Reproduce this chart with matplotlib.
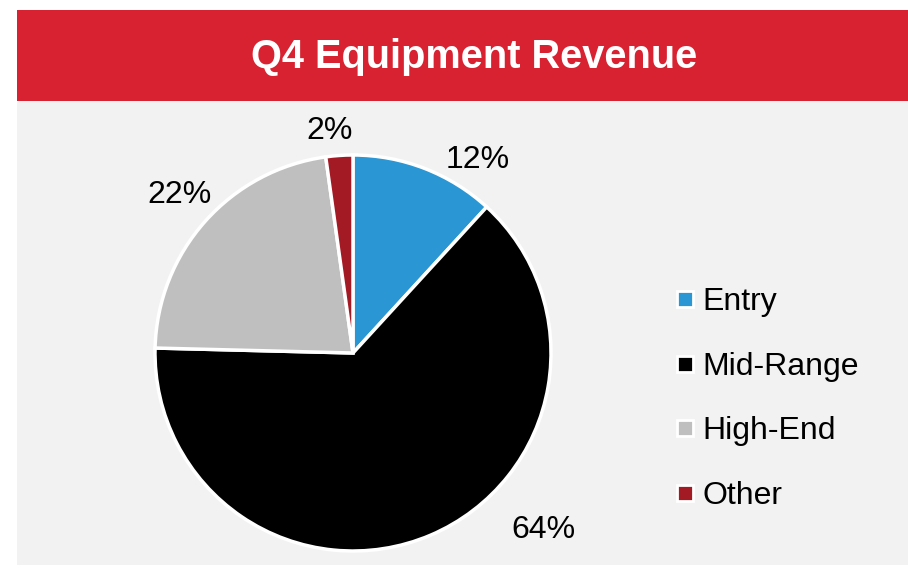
import matplotlib.pyplot as plt
from matplotlib.patches import Rectangle
from matplotlib.lines import Line2D

plt.rcParams['font.family'] = ['Liberation Sans', 'DejaVu Sans']

title = "Q4 Equipment Revenue"
categories = ["Entry", "Mid-Range", "High-End", "Other"]
shares = [11.8, 63.6, 22.4, 2.2]
colors = ["#2A96D4", "#000000", "#BFBFBF", "#A31A25"]
# label offsets in pie-radius units (Excel "best fit" placement)
label_pos = [(0.63, 0.975), (0.96, -0.894), (-0.874, 0.80), (-0.116, 1.12)]

W, H = 908, 570
fig = plt.figure(figsize=(W / 100, H / 100), dpi=100)
fig.patch.set_facecolor("white")
ax = fig.add_axes([0, 0, 1, 1])

# background panel + title banner
ax.add_patch(Rectangle((17, H - 565), W - 17, 465, facecolor="#F2F2F2", edgecolor="none", zorder=0))
ax.add_patch(Rectangle((17, H - 101), W - 17, 91, facecolor="#D92231", edgecolor="none", zorder=1))
ax.text(474, H - 57, title, color="white", fontsize=28.6, fontweight="bold",
        ha="center", va="center", zorder=2)

cx, cy, r = 353, H - 353, 198
wedges, _ = ax.pie(shares, colors=colors, startangle=90, counterclock=False,
                   center=(cx, cy), radius=r,
                   wedgeprops=dict(edgecolor="white", linewidth=2.5))
for s, (dx, dy) in zip(shares, label_pos):
    ax.text(cx + dx * r, cy + dy * r, f"{s:.0f}%", fontsize=23, ha="center", va="center")

ax.set_xlim(0, W)
ax.set_ylim(0, H)
ax.set_aspect("auto")
ax.axis("off")

handles = [Line2D([], [], marker="s", linestyle="none", markersize=11,
                  markerfacecolor=c, markeredgecolor="white", markeredgewidth=2)
           for c in colors]
ax.legend(handles, categories, loc="center left", bbox_to_anchor=(656 / W, 1 - 399 / H),
          frameon=False, fontsize=23, labelspacing=1.08, handletextpad=0.05,
          handlelength=1.0, borderaxespad=0)

fig.savefig("out.png", dpi=100)
